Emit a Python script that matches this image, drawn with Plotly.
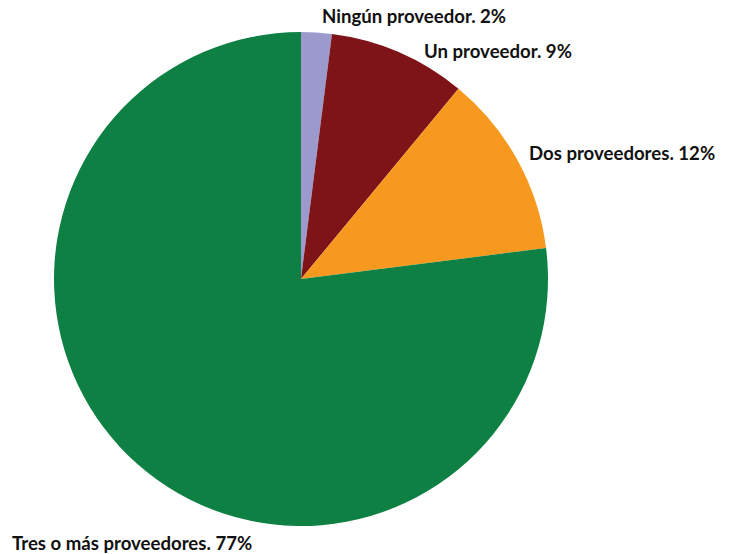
import plotly.graph_objects as go

categories = ["Ningún proveedor", "Un proveedor", "Dos proveedores", "Tres o más proveedores"]
values = [2, 9, 12, 77]
colors = ["#9c99cd", "#7e1418", "#f7991f", "#0f8043"]

W, H = 732, 554
cx, cy, r = 301, 279, 247

# label anchor positions (pixels from top-left)
label_px = [(321, 16), (423, 51), (528, 153), (11, 543)]

fig = go.Figure(go.Pie(
    labels=categories,
    values=values,
    marker=dict(colors=colors, line=dict(width=0)),
    sort=False,
    direction="clockwise",
    rotation=0,
    textinfo="none",
    hoverinfo="label+percent",
    domain=dict(x=[(cx - r) / W, (cx + r) / W], y=[(H - cy - r) / H, (H - cy + r) / H]),
    showlegend=False,
))

for cat, val, (px, py) in zip(categories, values, label_px):
    fig.add_annotation(
        x=px / W, y=1 - py / H, xref="paper", yref="paper",
        text=f"<b>{cat}. {val}%</b>",
        showarrow=False, xanchor="left", yanchor="middle",
        font=dict(family="Lato", size=18.6, color="#111111"),
        borderpad=0,
    )

fig.update_layout(
    width=W, height=H,
    margin=dict(l=0, r=0, t=0, b=0),
    paper_bgcolor="white",
    plot_bgcolor="white",
)

fig.write_html("out.html")
